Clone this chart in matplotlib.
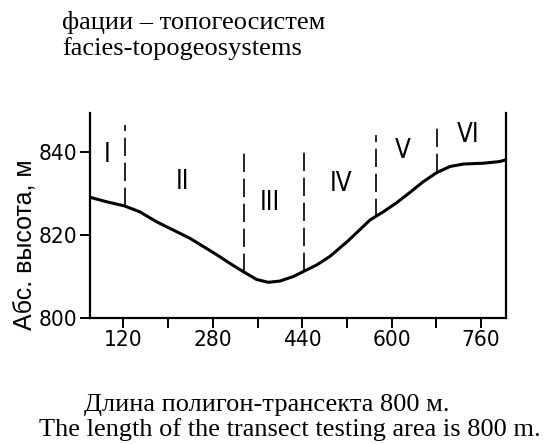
import numpy as np
import matplotlib
matplotlib.use('Agg')
import matplotlib.pyplot as plt
from matplotlib import font_manager
from matplotlib.ticker import FixedLocator

# профиль рельефа (расстояние, м / абс. высота, м)
dist = [60, 90, 122, 149, 179, 239, 285, 310, 334, 358, 379, 400, 424,
        442, 466, 489, 522, 561, 585, 609, 632, 656, 680, 704, 728, 764,
        793, 804]
elev = [829.1, 828.0, 827.0, 825.6, 823.2, 819.2, 815.4, 813.2, 811.2,
        809.3, 808.6, 808.9, 810.0, 811.2, 812.8, 814.8, 818.6, 823.6,
        825.6, 827.8, 830.2, 832.8, 835.0, 836.5, 837.1, 837.3, 837.7,
        838.1]

# границы фаций и верх пунктира
bounds = [122, 335, 443, 571, 681]
bound_top = [846.5, 840.5, 840.7, 844.1, 847.2]

# подписи фаций
facies = ['I', 'II', 'III', 'IV', 'V', 'VI']
facies_x = [90, 226, 382, 510, 620, 736]
facies_y = [839.3, 832.8, 827.7, 832.4, 840.3, 844.1]

major_x = [120, 280, 440, 600, 760]
minor_x = [200, 360, 520, 680]
yticks = [800, 820, 840]

# узкий шрифт, если он есть
fonts = font_manager.fontManager.ttflist
names = {f.name for f in fonts}
if 'Liberation Sans Narrow' in names:
    narrow = dict(family='Liberation Sans Narrow', size=17)
elif any(f.name == 'DejaVu Sans' and f.stretch == 'condensed' for f in fonts):
    narrow = dict(family='DejaVu Sans', stretch='condensed', size=16.2)
else:
    narrow = dict(family='Liberation Sans', size=16)

serif = ['Liberation Serif', 'DejaVu Serif']

fig = plt.figure(figsize=(5.45, 4.44), dpi=100)
ax = fig.add_axes([0.165, 0.2838, 0.763, 0.4617])

ax.plot(dist, elev, color='black', lw=2.2, solid_capstyle='round',
        solid_joinstyle='round')

for b, top in zip(bounds, bound_top):
    bottom = np.interp(b, dist, elev)
    ax.plot([b, b], [bottom, top], color='black', lw=1.2,
            linestyle=(0, (11, 4)))

for lab, fx, fy in zip(facies, facies_x, facies_y):
    ax.text(fx, fy, lab, ha='center', va='center', fontsize=18.5,
            family=narrow['family'], stretch=narrow.get('stretch', 'normal'))

ax.set_xlim(60, 804)
ax.set_ylim(800, 849.4)

ax.xaxis.set_major_locator(FixedLocator(major_x))
ax.xaxis.set_minor_locator(FixedLocator(minor_x))
ax.set_yticks(yticks)

ax.spines['top'].set_visible(False)
for s in ['left', 'right', 'bottom']:
    ax.spines[s].set_linewidth(1.6)

ax.tick_params(axis='both', which='both', direction='out', length=7,
               width=1.4, pad=2)
for lbl in ax.get_xticklabels() + ax.get_yticklabels():
    lbl.set_family(narrow['family'])
    lbl.set_fontsize(narrow['size'])
    lbl.set_stretch(narrow.get('stretch', 'normal'))

ax.set_ylabel('Абс. высота, м', fontsize=18,
              family=['Liberation Sans', 'DejaVu Sans'])
ax.yaxis.set_label_coords(-0.128, 0.356)

fig.text(0.114, 0.935, 'фации – топогеосистем', fontsize=19, family=serif,
         va='baseline')
fig.text(0.114, 0.876, 'facies-topogeosystems', fontsize=19, family=serif,
         va='baseline')

fig.text(0.154, 0.074, 'Длина полигон-трансекта 800 м.', fontsize=19,
         family=serif, va='baseline')
fig.text(0.072, 0.018, 'The length of the transect testing area is 800 m.',
         fontsize=19, family=serif, va='baseline')

plt.savefig('out.png', dpi=100)
